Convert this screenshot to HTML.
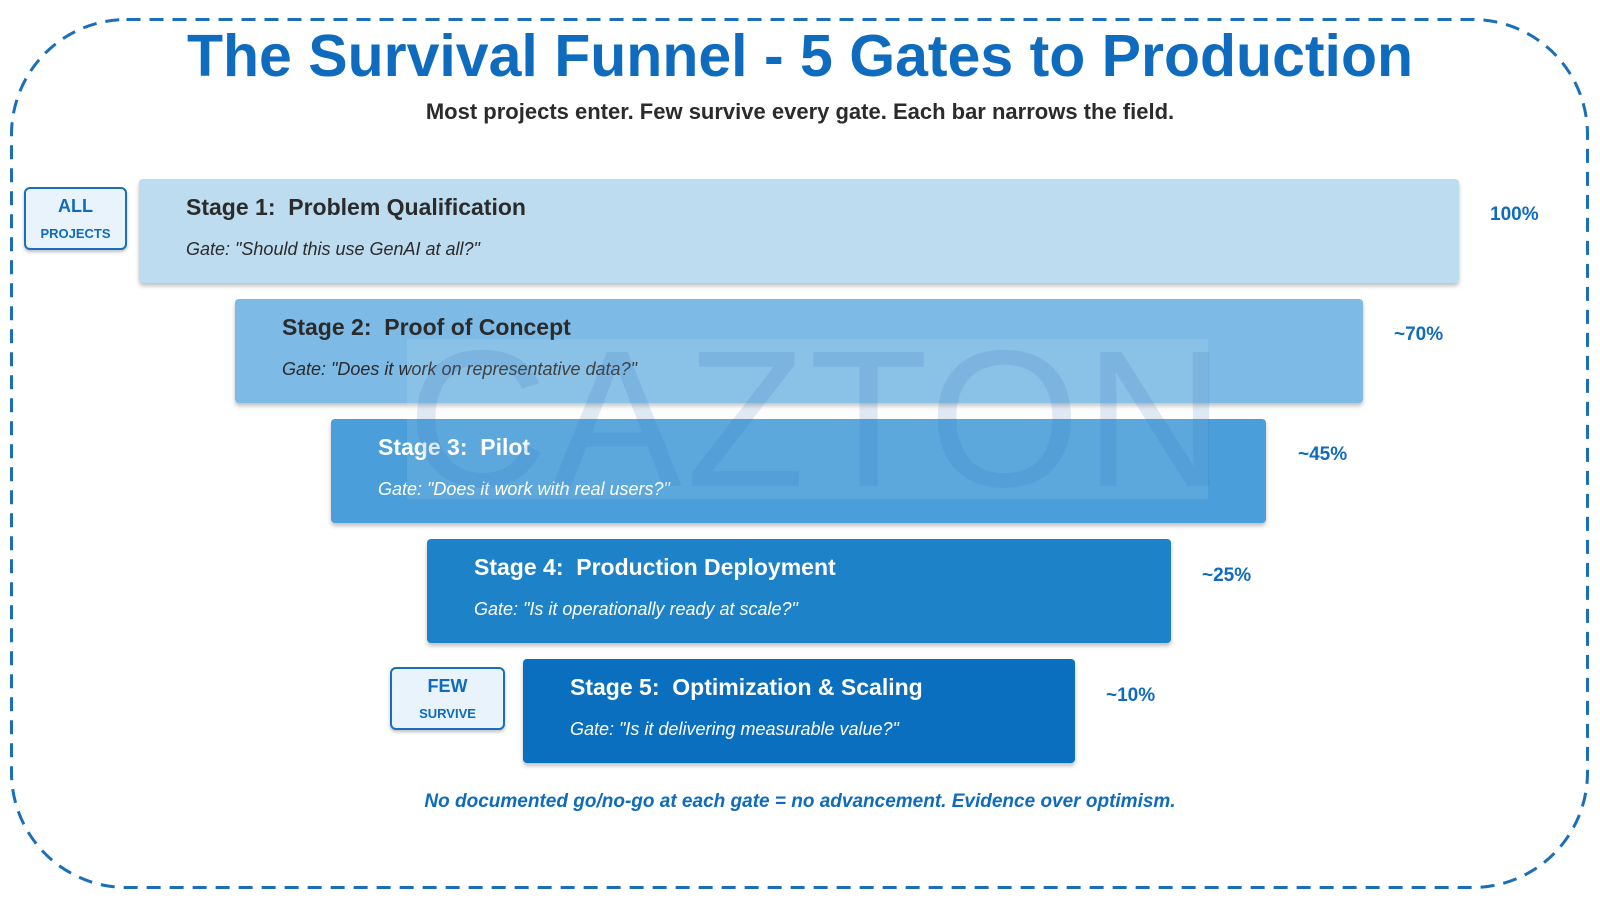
<!DOCTYPE html>
<html><head><meta charset="utf-8"><style>
body{margin:0;width:1600px;height:900px;background:#fff;font-family:"Liberation Sans",sans-serif;position:relative;overflow:hidden}
.frame{position:absolute;left:0;top:0}
.title{position:absolute;left:0;width:1600px;top:22px;text-align:center;font-size:59px;font-weight:bold;color:#0e6bbe}
.sub{position:absolute;left:0;width:1600px;top:99px;text-align:center;font-size:22px;font-weight:bold;color:#2b2b2b}
.bar{position:absolute;height:104px;border-radius:4px;box-shadow:0 3px 4px rgba(0,0,0,.25)}
.bar h3{margin:0;position:absolute;left:47px;top:15px;font-size:23px;font-weight:bold}
.bar p{margin:0;position:absolute;left:47px;top:60px;font-size:18px;font-style:italic}
.pct{position:absolute;font-size:19px;font-weight:bold;color:#0e6bbe}
.tag{position:absolute;background:#e8f3fc;border:2px solid #1a6fb8;border-radius:6px;text-align:center;color:#0e6bbe;font-weight:bold;box-shadow:0 2px 3px rgba(0,0,0,.25)}
.tag .a{font-size:18px;margin-top:7px}.tag .b{font-size:13px;margin-top:9px}
.wm{position:absolute;left:407px;top:339px;width:801px;height:160px;background:rgba(255,255,255,.1);font-size:195px;color:rgba(40,110,180,.15);line-height:160px;text-align:center;letter-spacing:4px}
.foot{position:absolute;left:0;width:1600px;top:791px;text-align:center;font-size:19px;font-weight:bold;font-style:italic;color:#0e6bbe}
</style></head><body>
<svg class="frame" width="1600" height="900"><rect x="11.5" y="19.5" width="1576" height="868" rx="115" fill="none" stroke="#1a6fb8" stroke-width="3" stroke-dasharray="14 9"/></svg>
<div class="title">The Survival Funnel - 5 Gates to Production</div>
<div class="sub">Most projects enter. Few survive every gate. Each bar narrows the field.</div>
<div class="tag" style="left:24px;top:187px;width:99px;height:59px"><div class="a">ALL</div><div class="b">PROJECTS</div></div>
<div class="tag" style="left:390px;top:667px;width:111px;height:59px"><div class="a">FEW</div><div class="b">SURVIVE</div></div>
<div class="bar" style="left:139px;top:179px;width:1320px;background:#bedcf0;color:#2b2b2b"><h3>Stage 1:&nbsp; Problem Qualification</h3><p>Gate: "Should this use GenAI at all?"</p></div>
<div class="bar" style="left:235px;top:299px;width:1128px;background:#7dbae5;color:#2b2b2b"><h3>Stage 2:&nbsp; Proof of Concept</h3><p>Gate: "Does it work on representative data?"</p></div>
<div class="bar" style="left:331px;top:419px;width:935px;background:#4a9fda;color:#fff"><h3>Stage 3:&nbsp; Pilot</h3><p>Gate: "Does it work with real users?"</p></div>
<div class="bar" style="left:427px;top:539px;width:744px;background:#1e82c9;color:#fff"><h3>Stage 4:&nbsp; Production Deployment</h3><p>Gate: "Is it operationally ready at scale?"</p></div>
<div class="bar" style="left:523px;top:659px;width:552px;background:#0b6fc0;color:#fff"><h3>Stage 5:&nbsp; Optimization &amp; Scaling</h3><p>Gate: "Is it delivering measurable value?"</p></div>
<div class="wm">CAZTON</div>
<div class="pct" style="left:1490px;top:204px">100%</div>
<div class="pct" style="left:1394px;top:324px">~70%</div>
<div class="pct" style="left:1298px;top:444px">~45%</div>
<div class="pct" style="left:1202px;top:565px">~25%</div>
<div class="pct" style="left:1106px;top:685px">~10%</div>
<div class="foot">No documented go/no-go at each gate = no advancement. Evidence over optimism.</div>
</body></html>
